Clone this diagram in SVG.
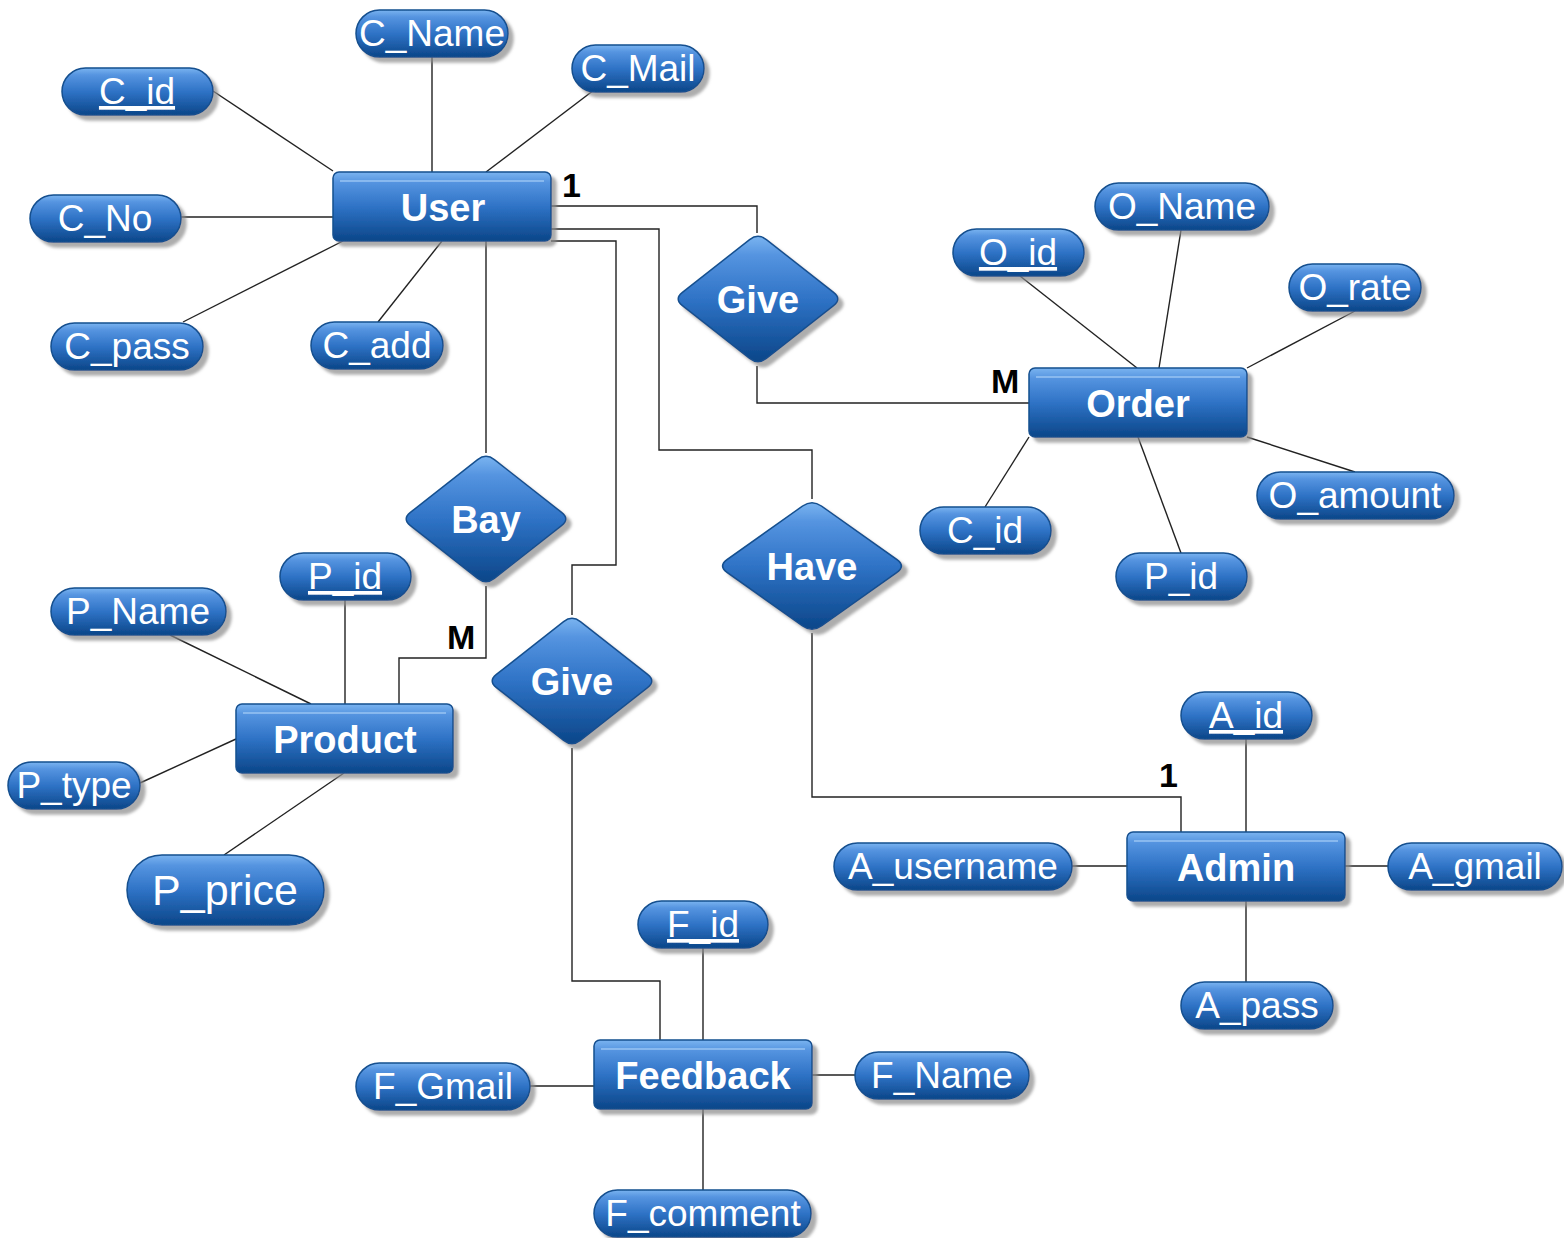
<svg xmlns="http://www.w3.org/2000/svg" width="1564" height="1238" viewBox="0 0 1564 1238">
<defs>
<linearGradient id="bg" x1="0" y1="0" x2="0" y2="1">
<stop offset="0" stop-color="#7ab4f0"/>
<stop offset="0.15" stop-color="#5594e0"/>
<stop offset="0.5" stop-color="#2f73c6"/>
<stop offset="1" stop-color="#0b4689"/>
</linearGradient>
<filter id="sh" x="-10%" y="-10%" width="130%" height="140%">
<feDropShadow dx="5" dy="5" stdDeviation="1.5" flood-color="#8a8a8a" flood-opacity="0.7"/>
</filter>
<path id="dia" d="M 8.4,-59.4 L 75.6,-6.6 Q 84,0 75.6,6.6 L 8.4,59.4 Q 0,66 -8.4,59.4 L -75.6,6.6 Q -84,0 -75.6,-6.6 L -8.4,-59.4 Q 0,-66 8.4,-59.4 Z"/>
</defs>
<style>
.ent{fill:url(#bg);stroke:#15508f;stroke-width:1.5;filter:url(#sh)}
.att{fill:url(#bg);stroke:#15508f;stroke-width:1.5;filter:url(#sh)}
.dm{fill:url(#bg);stroke:#15508f;stroke-width:1.5;filter:url(#sh)}
.hl{stroke:#a9cff7;stroke-width:1.5;opacity:0.8}
.et{font-family:"Liberation Sans",Arial,sans-serif;font-weight:bold;font-size:38px;fill:#fff;text-anchor:middle}
.at{font-family:"Liberation Sans",Arial,sans-serif;font-size:37px;fill:#fff;text-anchor:middle}
.u{text-decoration:underline}
.card{font-family:"Liberation Sans",Arial,sans-serif;font-weight:bold;font-size:34px;fill:#000}
.cn{fill:none;stroke:#222;stroke-width:1.4}
</style>
<rect width="1564" height="1238" fill="#fff"/>
<g id="connectors" class="cn">
<line x1="213" y1="91" x2="333" y2="171"/>
<line x1="432" y1="57" x2="432" y2="172"/>
<line x1="594" y1="90" x2="486" y2="172"/>
<line x1="181" y1="217" x2="333" y2="217"/>
<line x1="183" y1="322" x2="343" y2="241"/>
<line x1="378" y1="322" x2="442" y2="241"/>
<polyline points="551,206 757,206 757,233"/>
<polyline points="757,366 757,403 1029,403"/>
<polyline points="551,229 659,229 659,450 812,450 812,499"/>
<polyline points="551,241 616,241 616,565 572,565 572,615"/>
<line x1="486" y1="241" x2="486" y2="453"/>
<polyline points="486,586 486,658 399,658 399,704"/>
<polyline points="572,748 572,981 660,981 660,1040"/>
<polyline points="812,633 812,797 1181,797 1181,832"/>
<line x1="1020" y1="276" x2="1137" y2="368"/>
<line x1="1181" y1="230" x2="1159" y2="368"/>
<line x1="1355" y1="311" x2="1247" y2="368"/>
<line x1="1355" y1="472" x2="1247" y2="437"/>
<line x1="985" y1="507" x2="1029" y2="437"/>
<line x1="1181" y1="553" x2="1138" y2="437"/>
<line x1="345" y1="600" x2="345" y2="704"/>
<line x1="170" y1="635" x2="311" y2="704"/>
<line x1="140" y1="783" x2="236" y2="739"/>
<line x1="224" y1="855" x2="344" y2="773"/>
<line x1="1246" y1="739" x2="1246" y2="832"/>
<line x1="1072" y1="866" x2="1127" y2="866"/>
<line x1="1345" y1="866" x2="1388" y2="866"/>
<line x1="1246" y1="901" x2="1246" y2="982"/>
<line x1="703" y1="948" x2="703" y2="1040"/>
<line x1="530" y1="1086" x2="594" y2="1086"/>
<line x1="812" y1="1075" x2="855" y2="1075"/>
<line x1="703" y1="1109" x2="703" y2="1190"/>
</g>
<g id="labels">
<text class="card" x="562" y="197">1</text>
<text class="card" x="991" y="393">M</text>
<text class="card" x="447" y="649">M</text>
<text class="card" x="1159" y="787">1</text>
</g>
<g id="user"><rect class="ent" x="333" y="172" width="218" height="69" rx="6"/><line class="hl" x1="340" y1="181" x2="544" y2="181"/><text class="et" x="443" y="221">User</text></g>
<g id="order"><rect class="ent" x="1029" y="368" width="218" height="69" rx="6"/><line class="hl" x1="1036" y1="377" x2="1240" y2="377"/><text class="et" x="1138" y="417">Order</text></g>
<g id="product"><rect class="ent" x="236" y="704" width="217" height="69" rx="6"/><line class="hl" x1="243" y1="713" x2="446" y2="713"/><text class="et" x="345" y="753">Product</text></g>
<g id="admin"><rect class="ent" x="1127" y="832" width="218" height="69" rx="6"/><line class="hl" x1="1134" y1="841" x2="1338" y2="841"/><text class="et" x="1236" y="881">Admin</text></g>
<g id="feedback"><rect class="ent" x="594" y="1040" width="218" height="69" rx="6"/><line class="hl" x1="601" y1="1049" x2="805" y2="1049"/><text class="et" x="703" y="1089">Feedback</text></g>
<g id="give1"><use href="#dia" class="dm" transform="translate(758,299)"/><text class="et" x="758" y="313">Give</text></g>
<g id="bay"><use href="#dia" class="dm" transform="translate(486,519)"/><text class="et" x="486" y="533">Bay</text></g>
<g id="give2"><use href="#dia" class="dm" transform="translate(572,681)"/><text class="et" x="572" y="695">Give</text></g>
<g id="have"><use href="#dia" class="dm" transform="translate(812,566) scale(1.12,1.01)"/><text class="et" x="812" y="580">Have</text></g>
<g id="a_cname"><rect class="att" x="356" y="10" width="152" height="47" rx="23.5"/><text class="at" x="432" y="46">C_Name</text></g>
<g id="a_cmail"><rect class="att" x="572" y="45" width="132" height="47" rx="23.5"/><text class="at" x="638" y="81">C_Mail</text></g>
<g id="a_cid"><rect class="att" x="62" y="68" width="151" height="47" rx="23.5"/><text class="at u" x="137" y="104">C_id</text></g>
<g id="a_cno"><rect class="att" x="30" y="195" width="151" height="47" rx="23.5"/><text class="at" x="105" y="231">C_No</text></g>
<g id="a_cpass"><rect class="att" x="51" y="323" width="152" height="47" rx="23.5"/><text class="at" x="127" y="359">C_pass</text></g>
<g id="a_cadd"><rect class="att" x="311" y="322" width="132" height="47" rx="23.5"/><text class="at" x="377" y="358">C_add</text></g>
<g id="a_oname"><rect class="att" x="1095" y="183" width="174" height="47" rx="23.5"/><text class="at" x="1182" y="219">O_Name</text></g>
<g id="a_oid"><rect class="att" x="953" y="229" width="131" height="47" rx="23.5"/><text class="at u" x="1018" y="265">O_id</text></g>
<g id="a_orate"><rect class="att" x="1289" y="264" width="132" height="47" rx="23.5"/><text class="at" x="1355" y="300">O_rate</text></g>
<g id="a_oamount"><rect class="att" x="1257" y="472" width="197" height="47" rx="23.5"/><text class="at" x="1355" y="508">O_amount</text></g>
<g id="a_ocid"><rect class="att" x="920" y="507" width="131" height="47" rx="23.5"/><text class="at" x="985" y="543">C_id</text></g>
<g id="a_opid"><rect class="att" x="1116" y="553" width="131" height="47" rx="23.5"/><text class="at" x="1181" y="589">P_id</text></g>
<g id="a_pid"><rect class="att" x="280" y="553" width="131" height="47" rx="23.5"/><text class="at u" x="345" y="589">P_id</text></g>
<g id="a_pname"><rect class="att" x="51" y="588" width="175" height="47" rx="23.5"/><text class="at" x="138" y="624">P_Name</text></g>
<g id="a_ptype"><rect class="att" x="8" y="762" width="132" height="47" rx="23.5"/><text class="at" x="74" y="798">P_type</text></g>
<g id="a_pprice"><rect class="att" x="127" y="855" width="197" height="70" rx="35"/><text class="at" x="225" y="905" style="font-size:43px">P_price</text></g>
<g id="a_aid"><rect class="att" x="1181" y="692" width="131" height="47" rx="23.5"/><text class="at u" x="1246" y="728">A_id</text></g>
<g id="a_ausername"><rect class="att" x="834" y="843" width="238" height="47" rx="23.5"/><text class="at" x="953" y="879">A_username</text></g>
<g id="a_agmail"><rect class="att" x="1388" y="843" width="174" height="47" rx="23.5"/><text class="at" x="1475" y="879">A_gmail</text></g>
<g id="a_apass"><rect class="att" x="1181" y="982" width="152" height="47" rx="23.5"/><text class="at" x="1257" y="1018">A_pass</text></g>
<g id="a_fid"><rect class="att" x="638" y="901" width="130" height="47" rx="23.5"/><text class="at u" x="703" y="937">F_id</text></g>
<g id="a_fgmail"><rect class="att" x="356" y="1063" width="174" height="47" rx="23.5"/><text class="at" x="443" y="1099">F_Gmail</text></g>
<g id="a_fname"><rect class="att" x="855" y="1052" width="174" height="47" rx="23.5"/><text class="at" x="942" y="1088">F_Name</text></g>
<g id="a_fcomment"><rect class="att" x="594" y="1190" width="217" height="47" rx="23.5"/><text class="at" x="703" y="1226">F_comment</text></g>
</svg>
